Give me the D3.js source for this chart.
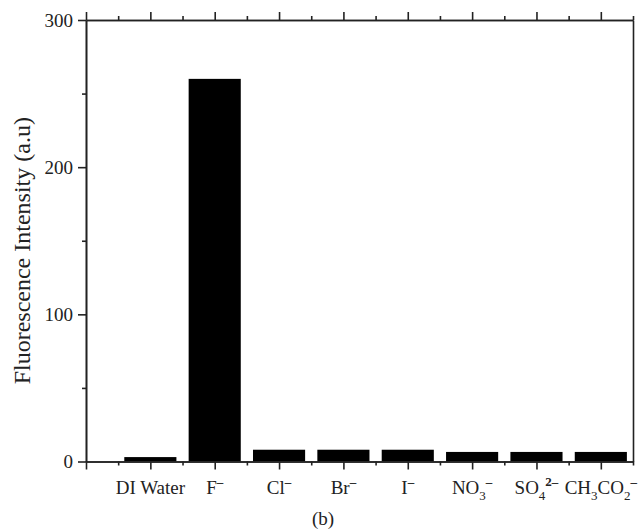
<!DOCTYPE html>
<html>
<head>
<meta charset="utf-8">
<script src="https://cdn.jsdelivr.net/npm/d3@7/dist/d3.min.js"></script>
<style>
  body { margin: 0; background: #fff; }
  svg text { font-family: "Liberation Serif", "Times New Roman", serif; fill: #222; }
  .axis path, .axis line { stroke: #222; stroke-width: 1.6; }
</style>
</head>
<body>
<div id="chart"></div>
<script>
// categories and their label parts: text, subscript/superscript
var categories = ["DI Water", "F", "Cl", "Br", "I", "NO3", "SO4", "CH3CO2"];
var labelParts = [
  [["DI Water", ""]],
  [["F", ""], ["\u2013", "sup"]],
  [["Cl", ""], ["\u2013", "sup"]],
  [["Br", ""], ["\u2013", "sup"]],
  [["I", ""], ["\u2013", "sup"]],
  [["NO", ""], ["3", "sub"], ["\u2013", "sup"]],
  [["SO", ""], ["4", "sub"], ["2\u2013", "sup"]],
  [["CH", ""], ["3", "sub"], ["CO", ""], ["2", "sub"], ["\u2013", "sup"]]
];
var values = [3, 260, 8, 8, 8, 6.5, 6.5, 6.5];
var yTicks = [0, 100, 200, 300];
var yMinor = [50, 150, 250];

var width = 644, height = 531;
var margin = {top: 20, right: 11, bottom: 69.5, left: 86};

var svg = d3.select("#chart").append("svg")
  .attr("width", width)
  .attr("height", height);

var x = d3.scaleLinear()
  .domain([0, categories.length + 0.5])
  .range([margin.left, width - margin.right]);

var y = d3.scaleLinear()
  .domain([0, 300])
  .range([height - margin.bottom, margin.top]);

var majorX = d3.range(0, categories.length + 1);
var minorX = d3.range(0.5, categories.length + 1, 1);
var bw = 0.81;

// bars
svg.selectAll(".bar")
  .data(values)
  .enter()
  .append("rect")
  .attr("class", "bar")
  .attr("x", function(d, i) { return x(i + 1 - bw / 2); })
  .attr("width", x(bw) - x(0))
  .attr("y", function(d) { return y(d); })
  .attr("height", function(d) { return y(0) - y(d); })
  .attr("fill", "#000");

// bottom axis
svg.append("g").attr("class", "axis")
  .attr("transform", "translate(0," + y(0) + ")")
  .call(d3.axisBottom(x).tickValues(majorX).tickSize(8).tickSizeOuter(0).tickFormat(""));
svg.append("g").attr("class", "axis")
  .attr("transform", "translate(0," + y(0) + ")")
  .call(d3.axisBottom(x).tickValues(minorX).tickSize(4).tickSizeOuter(0).tickFormat(""));

// top axis
svg.append("g").attr("class", "axis")
  .attr("transform", "translate(0," + y(300) + ")")
  .call(d3.axisTop(x).tickValues(majorX).tickSize(8).tickSizeOuter(0).tickFormat(""));
svg.append("g").attr("class", "axis")
  .attr("transform", "translate(0," + y(300) + ")")
  .call(d3.axisTop(x).tickValues(minorX).tickSize(4).tickSizeOuter(0).tickFormat(""));

// left axis
var left = svg.append("g").attr("class", "axis")
  .attr("transform", "translate(" + x(0) + ",0)")
  .call(d3.axisLeft(y).tickValues(yTicks).tickSize(8).tickSizeOuter(0).tickPadding(5));
left.selectAll("text").style("font-size", "19px");
svg.append("g").attr("class", "axis")
  .attr("transform", "translate(" + x(0) + ",0)")
  .call(d3.axisLeft(y).tickValues(yMinor).tickSize(4).tickSizeOuter(0).tickFormat(""));

// right axis (line only)
svg.append("g").attr("class", "axis")
  .attr("transform", "translate(" + x(categories.length + 0.5) + ",0)")
  .call(d3.axisRight(y).tickValues([]).tickSizeOuter(0));

// category labels
svg.selectAll(".xlab")
  .data(labelParts)
  .enter()
  .append("text")
  .attr("class", "xlab")
  .attr("x", function(d, i) { return x(i + 1); })
  .attr("y", y(0) + 32)
  .attr("text-anchor", "middle")
  .style("font-size", "19px")
  .each(function(parts) {
    var t = d3.select(this);
    var shift = 0;
    parts.forEach(function(p) {
      var target = p[1] === "sub" ? 6 : (p[1] === "sup" ? -8 : 0);
      var ts = t.append("tspan")
        .attr("dy", target - shift)
        .text(p[0]);
      if (p[1]) ts.style("font-size", "13px");
      if (p[1] === "sup") ts.style("font-weight", "bold");
      shift = target;
    });
  });

// y label
svg.append("text")
  .attr("transform", "translate(30," + ((y(0) + y(300)) / 2 + 10) + ") rotate(-90)")
  .attr("text-anchor", "middle")
  .style("font-size", "24px")
  .text("Fluorescence Intensity (a.u)");

// caption
svg.append("text")
  .attr("x", 323)
  .attr("y", 525)
  .attr("text-anchor", "middle")
  .style("font-size", "19px")
  .text("(b)");
</script>
</body>
</html>
